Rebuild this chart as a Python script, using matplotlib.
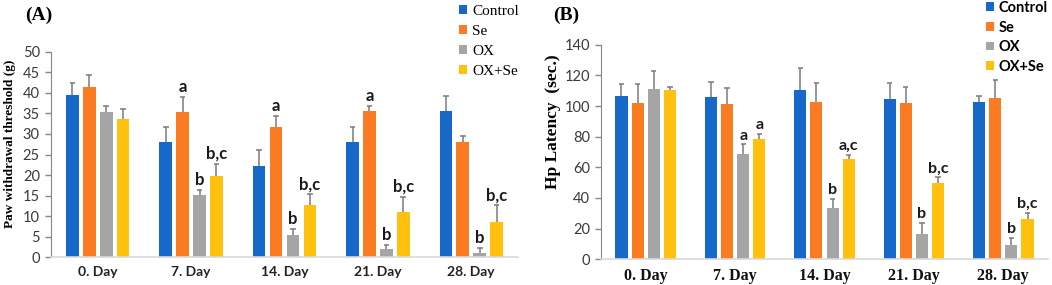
import numpy as np
import matplotlib
matplotlib.use('Agg')
import matplotlib.pyplot as plt
from matplotlib.patches import Patch

days = ['0. Day', '7. Day', '14. Day', '21. Day', '28. Day']
groups = ['Control', 'Se', 'OX', 'OX+Se']
COLORS = ['#1769c9', '#fb7b22', '#a5a5a5', '#ffc10e']

# Panel A - paw withdrawal threshold (g)
paw_mean = {
    'Control': [39.5, 28.0, 22.3, 28.0, 35.5],
    'Se':      [41.3, 35.4, 31.8, 35.5, 28.0],
    'OX':      [35.4, 15.2, 5.5, 2.1, 1.1],
    'OX+Se':   [33.7, 19.8, 12.6, 11.0, 8.6],
}
paw_err = {
    'Control': [3.0, 3.7, 3.9, 3.7, 3.7],
    'Se':      [3.1, 3.6, 2.5, 1.4, 1.6],
    'OX':      [1.3, 1.1, 1.4, 0.8, 1.1],
    'OX+Se':   [2.3, 3.0, 2.7, 3.7, 4.0],
}
paw_sig = {
    'Control': ['', '', '', '', ''],
    'Se':      ['', 'a', 'a', 'a', ''],
    'OX':      ['', 'b', 'b', 'b', 'b'],
    'OX+Se':   ['', 'b,c', 'b,c', 'b,c', 'b,c'],
}

# Panel B - hot plate latency (sec.)
hp_mean = {
    'Control': [106.7, 106.2, 110.2, 104.7, 102.9],
    'Se':      [101.9, 101.0, 102.9, 101.9, 105.4],
    'OX':      [110.8, 68.4, 33.3, 16.5, 9.1],
    'OX+Se':   [110.2, 78.6, 65.3, 50.0, 26.5],
}
hp_err = {
    'Control': [7.8, 9.2, 14.3, 10.3, 3.8],
    'Se':      [12.6, 10.5, 12.3, 10.7, 11.5],
    'OX':      [12.2, 6.5, 6.1, 7.2, 5.0],
    'OX+Se':   [2.4, 3.2, 3.0, 3.6, 3.7],
}
hp_sig = {
    'Control': ['', '', '', '', ''],
    'Se':      ['', '', '', '', ''],
    'OX':      ['', 'a', 'b', 'b', 'b'],
    'OX+Se':   ['', 'a', 'a,c', 'b,c', 'b,c'],
}

SANS = 'Lato'
SERIF = 'Liberation Serif'


def draw_panel(ax, means, errs, sigs, ymax, ystep, ylabel, xfont, yfont, sig_pad, sig_size):
    x = np.arange(len(days))
    pitch, w = 0.181, 0.136
    for i, g in enumerate(groups):
        xs = x + (i - 1.5) * pitch
        m = np.array(means[g])
        e = np.array(errs[g])
        ax.bar(xs, m, w, color=COLORS[i], edgecolor='none', zorder=2)
        ax.vlines(xs, m, m + e, color='#7a7a7a', lw=1.1, zorder=3)
        ax.hlines(m + e, xs - 0.03, xs + 0.03, color='#7a7a7a', lw=1.1, zorder=3)
        for xi, top, s in zip(xs, m + e, sigs[g]):
            if s:
                ax.text(xi, top + sig_pad, s, ha='center', va='bottom',
                        fontsize=sig_size, fontweight='bold', family=SANS, color='#1a1a1a')
    ax.set_xlim(-0.5, len(days) - 0.5)
    ax.set_ylim(0, ymax)
    ax.set_yticks(np.arange(0, ymax + 1, ystep))
    ax.set_xticks(x)
    ax.set_xticklabels(days, **xfont)
    ax.tick_params(axis='x', length=0, pad=6)
    ax.tick_params(axis='y', length=4, width=1, color='#888888', labelsize=10.5,
                   labelcolor='#3a3a3a', pad=4)
    for lab in ax.get_yticklabels():
        lab.set_family(SANS)
    ax.spines['top'].set_visible(False)
    ax.spines['right'].set_visible(False)
    ax.spines['left'].set_color('#888888')
    ax.spines['bottom'].set_color('#d9d9d9')
    ax.spines['bottom'].set_linewidth(1.2)
    ax.set_ylabel(ylabel, family=SERIF, fontweight='bold', **yfont)


fig = plt.figure(figsize=(10.52, 2.85), dpi=100)
W, H = 1052, 285

axA = fig.add_axes([51 / W, 1 - 257.3 / H, 467 / W, (257.3 - 51.7) / H])
draw_panel(axA, paw_mean, paw_err, paw_sig, 50, 5,
           'Paw withdrawal threshold (g)',
           dict(family=SANS, fontsize=10, fontweight='bold', color='#222222'),
           dict(fontsize=9.5), 0.5, 12)
axA.yaxis.set_label_coords(-0.075, 0.55)

axB = fig.add_axes([601 / W, 1 - 259.3 / H, 447 / W, (259.3 - 44.7) / H])
draw_panel(axB, hp_mean, hp_err, hp_sig, 140, 20,
           'Hp Latency  (sec.)',
           dict(family=SERIF, fontsize=11.5, fontweight='bold', color='#111111'),
           dict(fontsize=12.5), 1.2, 11.5)
axB.yaxis.set_label_coords(-0.09, 0.64)

fig.text(25 / W, 1 - 15 / H, '(A)', family=SERIF, fontweight='bold', fontsize=14,
         va='center', ha='left')
fig.text(553 / W, 1 - 15 / H, '(B)', family=SERIF, fontweight='bold', fontsize=14,
         va='center', ha='left')

handles = [Patch(facecolor=c, edgecolor='none', label=g) for g, c in zip(groups, COLORS)]
fig.legend(handles=handles, loc='upper left', bbox_to_anchor=(459 / W, 1 - 5 / H),
           frameon=False, prop=dict(family=SERIF, size=11),
           handlelength=0.55, handleheight=0.55, handletextpad=0.3, labelspacing=0.45,
           borderaxespad=0, borderpad=0)
fig.legend(handles=handles, loc='upper left', bbox_to_anchor=(986 / W, 1 - 1 / H),
           frameon=False, prop=dict(family=SANS, size=10.5, weight='bold'),
           handlelength=0.55, handleheight=0.55, handletextpad=0.3, labelspacing=0.38,
           borderaxespad=0, borderpad=0)

fig.savefig('out.png', dpi=100)
